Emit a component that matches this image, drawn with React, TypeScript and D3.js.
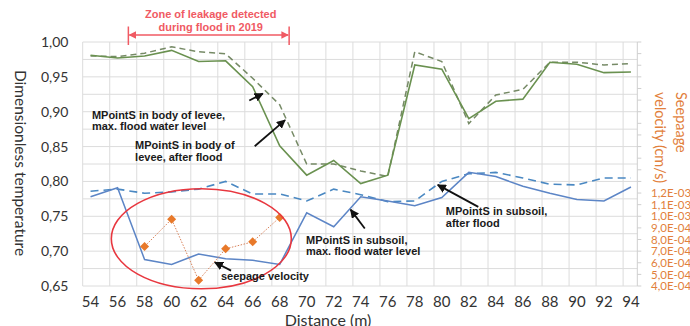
import React from "react";
import * as d3 from "d3";

// ---------- data ----------
const distance = [54, 56, 58, 60, 62, 64, 66, 68, 70, 72, 74, 76, 78, 80, 82, 84, 86, 88, 90, 92, 94];
const bodyMaxFlood = [0.981, 0.977, 0.98, 0.988, 0.972, 0.973, 0.936, 0.851, 0.809, 0.83, 0.797, 0.809, 0.967, 0.961, 0.89, 0.915, 0.918, 0.971, 0.968, 0.956, 0.957];
const bodyAfterFlood = [0.98, 0.979, 0.984, 0.993, 0.986, 0.983, 0.948, 0.91, 0.825, 0.825, 0.815, 0.807, 0.986, 0.972, 0.883, 0.924, 0.932, 0.971, 0.971, 0.967, 0.969];
const subsoilMaxFlood = [0.778, 0.791, 0.688, 0.681, 0.696, 0.689, 0.687, 0.681, 0.755, 0.735, 0.778, 0.772, 0.765, 0.777, 0.813, 0.807, 0.793, 0.783, 0.774, 0.772, 0.792];
const subsoilAfterFlood = [0.786, 0.789, 0.783, 0.785, 0.789, 0.8, 0.782, 0.782, 0.772, 0.789, 0.781, 0.771, 0.772, 0.8, 0.811, 0.813, 0.805, 0.796, 0.795, 0.805, 0.805];
const seepageDistance = [58, 60, 62, 64, 66, 68];
const seepageVelocity = [7.4e-4, 9.75e-4, 4.5e-4, 7.2e-4, 7.8e-4, 9.9e-4];
const leftTicks = [0.65, 0.7, 0.75, 0.8, 0.85, 0.9, 0.95, 1.0];
const rightLabelTicks = [4e-4, 5e-4, 6e-4, 7e-4, 8e-4, 9e-4, 1.0e-3, 1.1e-3, 1.2e-3];
const zoneStart = 56.8;
const zoneEnd = 68.7;
const zoneLines = ["Zone of leakage detected", "during flood in 2019"];

// annotations (data coordinates for text start and arrow)
const annotations = [
  { lines: ["MPointS in body of levee,", "max. flood water level"], x: 54.1, y: 0.8895, ax1: 65.75, ay1: 0.916, ax2: 66.75, ay2: 0.926 },
  { lines: ["MPointS in body of", "levee, after flood"], x: 57.3, y: 0.846, ax1: 66.15, ay1: 0.8505, ax2: 68.4, ay2: 0.888 },
  { lines: ["MPointS in subsoil,", "max. flood water level"], x: 69.95, y: 0.7105, ax1: 74.3, ay1: 0.7325, ax2: 73.25, ay2: 0.7595 },
  { lines: ["MPointS in subsoil,", "after flood"], x: 80.3, y: 0.7515, ax1: 82.7, ay1: 0.7635, ax2: 79.7, ay2: 0.795 },
  { lines: ["seepage velocity"], x: 63.65, y: 0.658, ax1: 64.4, ay1: 0.672, ax2: 63.2, ay2: 0.684 },
];

// ---------- layout ----------
const W = 690;
const H = 326;
const PL = 82.7;
const PR = 637.3;
const PT = 42;
const PB = 286;

const x = d3.scaleLinear().domain([53.42, 94.47]).range([PL, PR]);
const y = d3.scaleLinear().domain([0.65, 1.0]).range([PB, PT]);
const yR = d3.scaleLinear().domain([4e-4, 2.5e-3]).range([PB, PT]);

const fmtLeft = (v: number) => d3.format(".2f")(v).replace(".", ",");
const fmtRight = (v: number) => {
  const e = Math.floor(Math.log10(v) + 1e-9);
  const m = v / Math.pow(10, e);
  const es = Math.abs(e) < 10 ? "0" + Math.abs(e) : String(Math.abs(e));
  return m.toFixed(1).replace(".", ",") + "E" + (e < 0 ? "-" : "+") + es;
};

const GREEN = "#6a9150";
const GREEN_D = "#768a66";
const BLUE = "#5c85c6";
const BLUE_D = "#4a88c2";
const ORANGE = "#e8792a";
const AXIS_ORANGE = "#e27f3c";
const RED = "#e8373f";
const ZONE = "#f05a63";
const GRID = "#dcdcdc";
const CAL = "Lato, 'Open Sans', sans-serif";
const ARIAL = "'Liberation Sans', Arial, sans-serif";

const line = (xs: number[], ys: number[], sc = y) =>
  d3.line<number>().x((_, i) => x(xs[i])).y((d) => sc(d))(ys) || "";

export default function App() {
  const vGrid = d3.range(0, 21).map((k) => 53.42 + 2 * k);
  const hGrid = d3.range(0, 15).map((k) => 0.65 + 0.025 * k);
  const rTicks = d3.range(0, 22).map((k) => 4e-4 + k * 1e-4);
  const x1 = x(zoneStart);
  const x2 = x(zoneEnd);
  return (
    <svg
      width={W}
      height={H}
      style={{ position: "fixed", left: 0, top: 0, background: "#fff" }}
      xmlns="http://www.w3.org/2000/svg"
    >
      <defs>
        <marker id="ah" viewBox="0 0 10 10" refX="9" refY="5" markerWidth="5" markerHeight="5" orient="auto-start-reverse">
          <path d="M0,0 L10,5 L0,10 z" fill="#111" />
        </marker>
        <marker id="zh" viewBox="0 0 10 10" refX="9" refY="5" markerWidth="5" markerHeight="5" orient="auto-start-reverse">
          <path d="M0,0 L10,5 L0,10 z" fill={ZONE} />
        </marker>
      </defs>
      <rect x={0} y={0} width={W} height={H} fill="#fff" />

      {/* grid */}
      {vGrid.map((v, i) => (
        <line key={"v" + i} x1={x(v)} x2={x(v)} y1={PT} y2={PB} stroke={GRID} strokeWidth={1} />
      ))}
      {hGrid.map((v, i) => (
        <line key={"h" + i} x1={PL} x2={PR} y1={y(v)} y2={y(v)} stroke={GRID} strokeWidth={1} />
      ))}
      <line x1={PR} x2={PR} y1={PT} y2={PB} stroke="#cfcfcf" strokeWidth={1} />
      {rTicks.map((v, i) => (
        <line key={"rt" + i} x1={PR} x2={PR + 4} y1={yR(v)} y2={yR(v)} stroke="#cfcfcf" strokeWidth={1} />
      ))}

      {/* left axis labels */}
      {leftTicks.map((v) => (
        <text key={"l" + v} x={68.5} y={y(v)} dy="0.36em" textAnchor="end" fontFamily={CAL} fontSize={14} fill="#333">
          {fmtLeft(v)}
        </text>
      ))}
      <text
        transform={`translate(20,${(PT + PB) / 2 - 1}) rotate(90)`}
        textAnchor="middle"
        dy="0.35em"
        fontFamily={CAL}
        fontSize={15.5}
        fill="#333"
      >
        Dimensionless temperature
      </text>

      {/* bottom axis labels */}
      {distance.map((v) => (
        <text key={"b" + v} x={x(v)} y={302} dy="0.36em" textAnchor="middle" fontFamily={CAL} fontSize={15} fill="#333">
          {v}
        </text>
      ))}
      <text x={328} y={325.5} textAnchor="middle" fontFamily={CAL} fontSize={16} fill="#333">
        Distance (m)
      </text>

      {/* right axis */}
      {rightLabelTicks.map((v) => (
        <text key={"r" + v} x={651} y={yR(v)} dy="0.36em" fontFamily={CAL} fontSize={11.5} fill={AXIS_ORANGE}>
          {fmtRight(v)}
        </text>
      ))}
      <g transform="translate(681,92) rotate(90)">
        <text x={0} y={0} dy="0.35em" fontFamily={CAL} fontSize={14.5} fill={AXIS_ORANGE}>Seepaage</text>
      </g>
      <g transform="translate(660,92) rotate(90)">
        <text x={0} y={0} dy="0.35em" fontFamily={CAL} fontSize={14.5} fill={AXIS_ORANGE}>velocity (cm/s)</text>
      </g>

      {/* series */}
      <path d={line(distance, bodyAfterFlood)} fill="none" stroke={GREEN_D} strokeWidth={1.5} strokeDasharray="6 4" />
      <path d={line(distance, bodyMaxFlood)} fill="none" stroke={GREEN} strokeWidth={1.6} />
      <path d={line(distance, subsoilAfterFlood)} fill="none" stroke={BLUE_D} strokeWidth={1.6} strokeDasharray="8 5" />
      <path d={line(distance, subsoilMaxFlood)} fill="none" stroke={BLUE} strokeWidth={1.5} />
      <path d={line(seepageDistance, seepageVelocity, yR)} fill="none" stroke="#d9825a" strokeWidth={1} strokeDasharray="1.5 1.5" />
      {seepageVelocity.map((v, i) => {
        const cx = x(seepageDistance[i]);
        const cy = yR(v);
        return <path key={"s" + i} d={`M${cx},${cy - 4.5}L${cx + 4.5},${cy}L${cx},${cy + 4.5}L${cx - 4.5},${cy}Z`} fill={ORANGE} />;
      })}

      {/* red ellipse around leakage zone */}
      <ellipse cx={x(62.2)} cy={y(0.7178)} rx={90} ry={50} fill="none" stroke={RED} strokeWidth={1.6} />

      {/* zone marker */}
      <line x1={x1} x2={x1} y1={26.5} y2={45} stroke={ZONE} strokeWidth={1.5} />
      <line x1={x2} x2={x2} y1={26.5} y2={45} stroke={ZONE} strokeWidth={1.5} />
      <line x1={x1 + 1} x2={x2 - 1} y1={35} y2={35} stroke={ZONE} strokeWidth={1.5} markerStart="url(#zh)" markerEnd="url(#zh)" />
      {zoneLines.map((t, i) => (
        <text key={t} x={(x1 + x2) / 2 + 2} y={14.5 + i * 12.8} dy="0.35em" textAnchor="middle" fontFamily={ARIAL} fontWeight="bold" fontSize={11} fill={ZONE}>
          {t}
        </text>
      ))}

      {/* annotations */}
      {annotations.map((a, i) => (
        <g key={"a" + i}>
          <line x1={x(a.ax1)} y1={y(a.ay1)} x2={x(a.ax2)} y2={y(a.ay2)} stroke="#111" strokeWidth={1.8} markerEnd="url(#ah)" />
          {a.lines.map((t, j) => (
            <text key={j} x={x(a.x)} y={y(a.y) + j * 11.3} fontFamily={ARIAL} fontWeight="bold" fontSize={11} fill="#1a1a1a">
              {t}
            </text>
          ))}
        </g>
      ))}
    </svg>
  );
}
